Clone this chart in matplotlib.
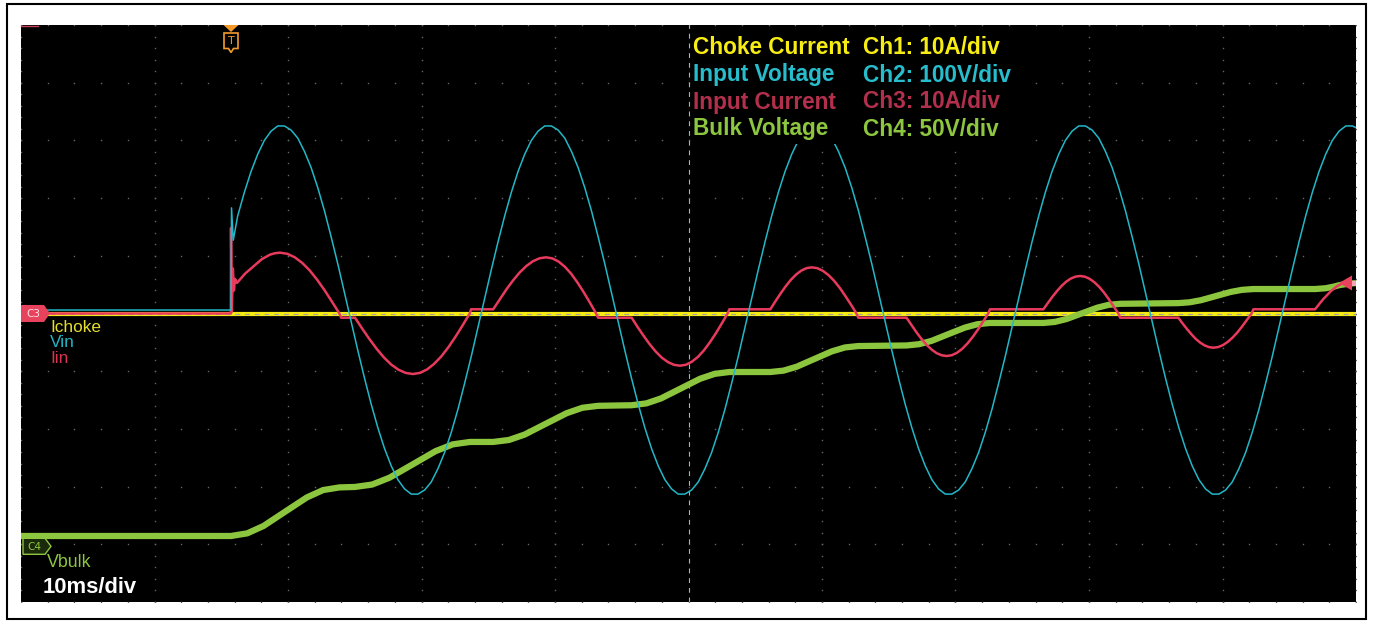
import numpy as np
import matplotlib
matplotlib.use('Agg')
import matplotlib.pyplot as plt
from matplotlib.patches import Polygon, Rectangle

plt.rcParams['lines.scale_dashes'] = False

# ---------------- data (time in ms relative to trigger) ----------------
# Ch2 input voltage (V), sampled every 0.5 ms after the trigger
vin_t = [-15.73, 0.0, 0.04, 0.17, 0.5] + [1 + 0.5 * k for k in range(167)] + [84.27]
vin_v = [0, 0, 177, 121, 163,
         204, 240, 270, 294, 310, 319, 319, 312, 298, 275, 247, 212, 172, 127, 80, 30, -20, -70, -118, -163,
         -204, -240, -270, -294, -310, -319, -319, -312, -298, -275, -247, -212, -172, -127, -80, -30, 20, 70, 118, 163,
         204, 240, 270, 294, 310, 319, 319, 312, 298, 275, 247, 212, 172, 127, 80, 30, -20, -70, -118, -163,
         -204, -240, -270, -294, -310, -319, -319, -312, -298, -275, -247, -212, -172, -127, -80, -30, 20, 70, 118, 163,
         204, 240, 270, 294, 310, 319, 319, 312, 298, 275, 247, 212, 172, 127, 80, 30, -20, -70, -118, -163,
         -204, -240, -270, -294, -310, -319, -319, -312, -298, -275, -247, -212, -172, -127, -80, -30, 20, 70, 118, 163,
         204, 240, 270, 294, 310, 319, 319, 312, 298, 275, 247, 212, 172, 127, 80, 30, -20, -70, -118, -163,
         -204, -240, -270, -294, -310, -319, -319, -312, -298, -275, -247, -212, -172, -127, -80, -30, 20, 70, 118, 163,
         204, 240, 270, 294, 310, 319, 319,
         316]

# Ch3 input current (A)
iin_t = [-15.73, -0.01, 0.0, 0.06, 0.14, 0.22, 0.3, 0.45,
         1.05, 1.65, 2.3, 2.92, 3.3, 3.67, 4.22, 4.78, 5.34, 5.9, 6.45, 7.01, 7.56, 8.12, 8.25, 9.29,
         9.83, 10.38, 10.92, 11.46, 12.0, 12.55, 13.09, 13.63, 14.16, 14.69, 15.22, 15.76, 16.29, 16.82,
         17.35, 17.88, 17.98, 19.64,
         20.14, 20.63, 21.13, 21.62, 22.12, 22.61, 23.11, 23.6, 24.07, 24.54, 25.01, 25.48, 25.94, 26.41,
         26.88, 27.35, 27.5, 30.01,
         30.46, 30.92, 31.37, 31.82, 32.27, 32.73, 33.18, 33.63, 34.08, 34.52, 34.97, 35.42, 35.86, 36.31,
         36.75, 37.2, 37.33, 40.4,
         40.79, 41.18, 41.57, 41.95, 42.34, 42.73, 43.11, 43.5, 43.92, 44.34, 44.76, 45.18, 45.6, 46.01,
         46.52, 46.85, 46.99, 50.6,
         50.98, 51.35, 51.73, 52.1, 52.48, 52.85, 53.23, 53.6, 53.99, 54.38, 54.77, 55.16, 55.55, 55.94,
         56.41, 56.72, 56.85, 60.85,
         61.2, 61.54, 61.89, 62.23, 62.57, 62.91, 63.26, 63.6, 63.96, 64.32, 64.68, 65.04, 65.4, 65.75,
         66.18, 66.47, 66.6, 70.96,
         71.29, 71.62, 71.95, 72.27, 72.6, 72.93, 73.26, 73.58, 73.94, 74.3, 74.66, 75.02, 75.38, 75.73,
         76.16, 76.45, 76.58, 81.2,
         81.8, 82.4, 82.85, 83.4, 83.8, 84.27]
iin_a = [0, 0, 14.8, 0.3, 7.8, 4.0, 6.0, 5.3,
         6.9, 8.1, 9.4, 10.2, 10.45, 10.54, 10.35, 9.74, 8.76, 7.45, 5.86, 4.03, 2.06, 0, -0.73, -0.73,
         -2.63, -4.47, -6.15, -7.63, -8.85, -9.75, -10.3, -10.49, -10.29, -9.69, -8.72, -7.42, -5.83, -4.01,
         -2.05, 0, 0.73, 0.73,
         2.49, 4.18, 5.74, 7.1, 8.22, 9.05, 9.57, 9.74, 9.55, 9.0, 8.1, 6.89, 5.41, 3.73,
         1.9, 0, -0.73, -0.73,
         -2.35, -3.91, -5.35, -6.61, -7.65, -8.42, -8.89, -9.05, -8.88, -8.36, -7.53, -6.4, -5.03, -3.46,
         -1.77, 0, 0.73, 0.73,
         2.15, 3.51, 4.77, 5.87, 6.77, 7.45, 7.86, 8.0, 7.85, 7.39, 6.65, 5.66, 4.44, 3.06,
         1.25, 0, -0.73, -0.73,
         -2.03, -3.27, -4.42, -5.42, -6.25, -6.86, -7.24, -7.37, -7.23, -6.81, -6.13, -5.21, -4.09, -2.82,
         -1.15, 0, 0.73, 0.73,
         1.86, 2.94, 3.94, 4.81, 5.53, 6.06, 6.39, 6.5, 6.38, 6.01, 5.4, 4.6, 3.61, 2.49,
         1.01, 0, -0.73, -0.73,
         -1.75, -2.72, -3.62, -4.41, -5.05, -5.53, -5.83, -5.93, -5.82, -5.48, -4.93, -4.19, -3.29, -2.27,
         -0.93, 0, 0.73, 0.73,
         2.45, 3.9, 4.74, 5.36, 5.5, 5.42]

# Ch4 bulk voltage (V)
vbulk_t = [-15.73, 0, 1.22, 2.44, 4.06, 5.68, 6.9, 8.12, 9.29,
           10.58, 11.87, 13.6, 15.32, 16.61, 17.9, 19.64,
           20.82, 22.0, 23.57, 25.14, 26.32, 27.5, 30.01,
           31.11, 32.21, 33.67, 35.13, 36.23, 37.33, 40.4,
           41.39, 42.38, 43.7, 45.01, 46.0, 46.99, 50.6,
           51.54, 52.48, 53.73, 54.98, 55.91, 56.85, 60.85,
           61.71, 62.58, 63.73, 64.88, 65.74, 66.6, 70.96,
           71.8, 72.65, 73.77, 74.89, 75.74, 76.58, 81.2,
           82.0, 82.6, 83.07, 83.7, 84.27]
vbulk_v = [7.2, 7.2, 9.5, 15.9, 28.3, 40.6, 47.0, 49.3, 49.7,
           51.8, 57.7, 69.2, 80.7, 86.6, 88.7, 88.7,
           90.4, 95.1, 104.4, 113.6, 118.3, 120.0, 120.5,
           122.1, 126.4, 134.9, 143.4, 147.7, 149.3, 149.3,
           150.5, 153.9, 160.6, 167.2, 170.6, 171.8, 172.3,
           173.4, 176.3, 182.1, 187.8, 190.7, 191.8, 191.8,
           192.7, 195.2, 200.1, 205.0, 207.5, 208.4, 209.0,
           209.7, 211.5, 215.1, 218.7, 220.5, 221.2, 221.2,
           221.9, 223.3, 224.7, 225.8, 226.4]

# Ch1 choke current (A)
ichoke_t = [-15.73, 84.27]
ichoke_a = [0, 0]

# channel settings: (units/div, position in div)
ch1_scale, ch1_pos = 10.0, 0.0
ch2_scale, ch2_pos = 100.0, 0.06
ch3_scale, ch3_pos = 10.0, 0.0
ch4_scale, ch4_pos = 50.0, -4.0

legend_left = ["Choke Current", "Input Voltage", "Input Current", "Bulk Voltage"]
legend_right = ["Ch1: 10A/div", "Ch2: 100V/div", "Ch3: 10A/div", "Ch4: 50V/div"]
legend_colors = ["#F7EC13", "#27BDCC", "#B3304D", "#8DC63F"]
timebase_label = "10ms/div"

# ---------------- figure ----------------
W, H = 1373, 623
fig = plt.figure(figsize=(W / 100, H / 100), dpi=100, facecolor='white')

L, T, R, B = 21, 25, 1356, 602
ax = fig.add_axes([L / W, 1 - B / H, (R - L) / W, (B - T) / H])
ax.set_facecolor('black')
ax.set_xlim(-15.73, 84.27)
ax.set_ylim(-5, 5)
for s in ax.spines.values():
    s.set_visible(False)
ax.set_xticks([])
ax.set_yticks([])

# graticule
xmaj = -15.73 + 10 * np.arange(11)
ymaj = -5 + np.arange(11)
xmin = -15.73 + 2 * np.arange(51)
ymin = -5 + 0.2 * np.arange(51)
dots_x, dots_y = [], []
for xv in xmaj:
    if abs(xv - 34.27) < 1e-6:
        continue
    dots_x += [xv] * len(ymin)
    dots_y += list(ymin)
for yv in ymaj:
    if yv == 0:
        continue
    dots_x += list(xmin)
    dots_y += [yv] * len(xmin)
ax.plot(dots_x, dots_y, ls='none', marker='s', ms=1.0, mew=0, color='#666666', zorder=1)

# traces
def div(vals, scale, pos):
    return np.asarray(vals, float) / scale + pos

ax.plot(ichoke_t, div(ichoke_a, ch1_scale, ch1_pos), color='#F5EA14', lw=3.0, zorder=2,
        solid_capstyle='butt')
ax.axhline(0, color='#a0a0a0', lw=0.8, dashes=(3.5, 3.5), zorder=2.5)
ax.axvline(34.27, color='#b0b0b0', lw=0.8, dashes=(3.5, 3.5), zorder=2.5)
ax.plot(vbulk_t, div(vbulk_v, ch4_scale, ch4_pos), color='#8CC63E', lw=4.5, zorder=3,
        solid_joinstyle='round', solid_capstyle='butt')
ax.plot(iin_t, div(iin_a, ch3_scale, ch3_pos), color='#E83A5C', lw=1.8, zorder=4,
        solid_joinstyle='round')
ax.plot(vin_t, div(vin_v, ch2_scale, ch2_pos), color='#22B8C8', lw=1.1, zorder=5,
        solid_joinstyle='round')

# ---------------- overlay (pixel coordinates) ----------------
ov = fig.add_axes([0, 0, 1, 1])
ov.set_xlim(0, W)
ov.set_ylim(H, 0)
ov.axis('off')
ov.patch.set_alpha(0)

# outer border
ov.add_patch(Rectangle((7, 4), 1366 - 7, 619 - 4, fill=False, ec='black', lw=1.5, zorder=0))

def ypix(d):
    return 313.5 - d * 57.7

# legend backing box and text
ov.add_patch(Rectangle((691, 31), 336, 113, fc='black', ec='none', zorder=1))
for i in range(4):
    yb = 54.5 + 27 * i
    ov.text(693, yb, legend_left[i], color=legend_colors[i], fontsize=16.3,
            family='Liberation Sans', weight='bold', va='baseline', ha='left', zorder=2)
    ov.text(863, yb, legend_right[i], color=legend_colors[i], fontsize=16.3,
            family='Liberation Sans', weight='bold', va='baseline', ha='left', zorder=2)

# trace labels
ov.text(50, 331.7, "Ichoke", color='#E3DD2C', fontsize=12.4, family='Liberation Sans', va='baseline')
ov.text(50, 347.3, "Vin", color='#1FB5C5', fontsize=12.4, family='Liberation Sans', va='baseline')
ov.text(50, 362.7, "Iin", color='#D9354F', fontsize=12.4, family='Liberation Sans', va='baseline')
ov.text(47, 567.3, "Vbulk", color='#8DC63F', fontsize=12.8, family='Liberation Sans', va='baseline')
ov.text(43, 592.7, timebase_label, color='white', fontsize=15.8, family='Liberation Sans',
        weight='bold', va='baseline')

# C3 marker
yc3 = ypix(ch3_pos)
ov.add_patch(Polygon([(21, yc3 - 8.5), (44, yc3 - 8.5), (50, yc3), (44, yc3 + 8.5), (21, yc3 + 8.5)],
                     closed=True, fc='#E8435C', ec='none', zorder=3))
ov.text(33, yc3 + 0.5, "C3", color='#FFE0E6', fontsize=7.5, ha='center', va='center', zorder=4)

# C4 marker
yc4 = ypix(ch4_pos) + 2
ov.add_patch(Polygon([(23, yc4 - 8), (45, yc4 - 8), (51, yc4), (45, yc4 + 8), (23, yc4 + 8)],
                     closed=True, fc='#1C2A0C', ec='#8DC63F', lw=1.0, zorder=3))
ov.text(34, yc4 + 0.5, "C4", color='#8DC63F', fontsize=7.5, ha='center', va='center', zorder=4)

# trigger position marker (top)
xt = 21 + 15.73 * 13.35
orange = '#F39A2B'
ov.add_patch(Polygon([(xt - 7.5, 25), (xt + 7.5, 25), (xt, 32)], closed=True, fc=orange, ec='none', zorder=3))
ov.add_patch(Polygon([(xt - 7, 33), (xt + 7, 33), (xt + 7, 48.5), (xt + 2.5, 48.5), (xt, 52.5),
                      (xt - 2.5, 48.5), (xt - 7, 48.5)], closed=True, fc='black', ec=orange, lw=1.2, zorder=3))
ov.text(xt, 41, "T", color=orange, fontsize=8, ha='center', va='center', zorder=4)

# trigger level marker (right edge)
ylev = 283
ov.add_patch(Rectangle((1351, ylev - 2.5), 5, 5, fc='#F5A5B5', ec='none', zorder=3))
ov.add_patch(Polygon([(1339, ylev), (1352, ylev - 7.5), (1352, ylev + 7.5)], closed=True,
                     fc='#E8435C', ec='none', zorder=4))

# small red tick at top-left edge
ov.plot([21, 38], [25.5, 25.5], color='#C8405A', lw=1.0, zorder=3)

fig.savefig('out.png', dpi=100, facecolor='white')
